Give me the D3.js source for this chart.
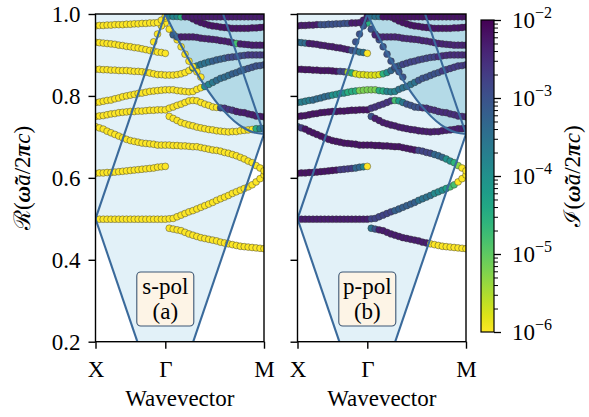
<!DOCTYPE html>
<html><head><meta charset="utf-8">
<script src="https://cdn.jsdelivr.net/npm/d3@7"></script>
<style>
body{margin:0;background:#fff}
svg{display:block}
svg text{font-family:"Liberation Serif","DejaVu Serif",serif !important;fill:#000}
</style>
</head><body>
<svg id="c" width="589" height="417"></svg>
<script>
// ---- data ----
const kPath = [0,0.0278,0.0556,0.0833,0.1111,0.1389,0.1667,0.1944,0.2222,0.25,0.2778,0.3056,0.3333,0.3611,0.3889,0.4167,0.4444,0.4722,0.5,
  0.5283,0.5566,0.5849,0.6131,0.6414,0.6697,0.6980,0.7263,0.7546,0.7828,0.8111,0.8394,0.8677,0.8960,0.9243,0.9525,0.9808,1.0091,1.0374,1.0657,1.0939,1.1222,1.1505,1.1788,1.2071];
const kTicks = [0, 0.5, 1.2071];
const kTickLabels = ["X", "Γ", "M"];
const wTicks = [0.2, 0.4, 0.6, 0.8, 1.0];
const imMajor = [1e-6, 1e-5, 1e-4, 1e-3, 1e-2];
const imMajorExp = ["−6", "−5", "−4", "−3", "−2"];
const panelNames = ["s-pol", "p-pol"];
const panelTags = ["(a)", "(b)"];

// bands: start index on kPath, Re(omega) values, colour runs [from,to,log10 Im] for s-pol and p-pol
const b1Start = 0;
const b1W = [.499,.499,.499,.499,.499,.499,.499,.499,.499,.499,.499,.499,.499,.499,.499,.499,.499,.499,.499,.500,.501,.505,.509,.513,.517,.520,.524,.528,.532,.536,.540,.545,.549,.553,.557,.562,.566,.570,.574,.578,.583,.590,.598,.607];
const b1S = [[0,43,-6.5]];
const b1P = [[0,0,-3.0],[1,18,-2.3],[19,24,-2.8],[25,30,-3.2],[31,34,-3.5],[35,37,-3.9],[38,38,-4.3],[39,40,-4.8],[41,43,-6.5]];

const b2Start = 19;
const b2W = [.477,.475,.473,.471,.467,.463,.460,.457,.454,.452,.450,.448,.446,.443,.441,.439,.437,.435,.433,.432,.431,.430,.429,.428,.427];
const b2S = [[19,43,-6.5]];
const b2P = [[19,19,-3.5],[20,20,-3.0],[21,33,-2.3],[34,43,-6.5]];

const b3Start = 0;
const b3W = [.611,.612,.612,.613,.613,.614,.615,.616,.617,.618,.619,.620,.621,.622,.623,.624,.626,.627,.628];
const b3S = [[0,18,-6.5]];
const b3P = [[0,10,-2.2],[11,14,-2.7],[15,16,-3.3],[17,17,-3.8],[18,18,-6.5]];

const b5Start = 0;
const b5W = [.725,.722,.719,.714,.710,.706,.702,.698,.694,.691,.689,.687,.685,.684,.683,.682,.680,.680,.680,.680,.679,.679,.678,.678,.677,.676,.676,.674,.672,.670,.668,.667,.665,.662,.660,.657,.654,.650,.646,.641,.637,.630,.624,.617];
const b5S = [[0,43,-6.5]];
const b5P = [[0,0,-3.2],[1,1,-2.7],[2,30,-2.2],[31,34,-2.8],[35,37,-3.3],[38,39,-4.0],[40,40,-4.6],[41,41,-5.3],[42,43,-6.5]];

const b6Start = 0;
const b6W = [.750,.751,.752,.754,.756,.757,.759,.760,.761,.762,.762,.763,.763,.764,.765,.765,.766,.766,.766,.770,.773,.777,.780,.784,.788,.789,.788,.784,.780,.777,.773,.772,.771,.770,.767,.765,.762,.760,.759,.756,.754,.751,.750,.749];
const b6S = [[0,31,-6.5],[32,32,-3.0],[33,35,-2.6],[36,43,-2.3]];
const b6P = [[0,18,-2.2],[19,24,-2.6],[25,25,-4.8],[26,26,-4.2],[27,27,-3.6],[28,31,-3.0],[32,43,-2.5]];

const b7Start = 0;
const b7W = [.784,.785,.787,.789,.790,.793,.795,.798,.800,.802,.804,.806,.807,.809,.811,.812,.813,.814,.815,.815,.815,.813,.812,.811,.810,.811,.816,.820,.823,.828,.833,.838,.843,.846,.850,.854,.857,.861,.864,.867,.870,.873,.874,.876];
const b7S = [[0,27,-6.5],[28,28,-4.0],[29,29,-3.8],[30,30,-3.6],[31,34,-3.4],[35,38,-3.2],[39,43,-3.0]];
const b7P = [[0,3,-3.7],[4,8,-3.4],[9,12,-4.0],[13,15,-4.5],[16,20,-5.2],[21,22,-4.5],[23,25,-3.8],[26,30,-3.5],[31,36,-3.0],[37,43,-2.7]];

const b8Start = 19;
const b8W = [.750,.745,.740,.735,.732,.729,.727,.724,.722,.720,.718,.717,.715,.714,.713,.712,.713,.713,.715,.716,.717,.718,.720,.720,.721];
const b8S = [[19,40,-6.5],[41,41,-4.5],[42,43,-3.8]];
const b8P = [[19,19,-3.0],[20,43,-2.3]];

const b9Start = 0;
const b9W = [.865,.865,.864,.864,.863,.863,.862,.862,.862,.861,.860,.860,.859,.858,.856,.854,.852,.852,.851,.851,.851,.852,.854,.857,.862,.868,.873,.877,.880,.883,.885,.888,.890,.892,.894,.895,.896,.898,.899,.900,.900,.900,.900,.900];
const b9S = [[0,24,-6.5],[25,25,-4.0],[26,26,-3.8],[27,29,-3.5],[30,33,-3.2],[34,38,-2.9],[39,43,-2.7]];
const b9P = [[0,10,-2.2],[11,12,-2.8],[13,13,-5.5],[14,14,-4.5],[15,21,-5.8],[22,22,-4.6],[23,23,-4.0],[24,26,-3.3],[27,35,-2.8],[36,43,-2.5]];

const b10Start = 0;
const b10W = [.931,.930,.929,.928,.927,.926,.924,.923,.921,.920,.918,.917,.915,.913,.911,.910,.907,.906,.904];
const b10S = [[0,18,-6.5]];
const b10P = [[0,2,-3.4],[3,13,-2.3],[14,15,-3.0],[16,17,-3.5],[18,18,-6.5]];

const b11Start = 0;
const b11W = [.971,.972,.972,.973,.973,.974,.974,.974,.975,.975,.976,.976,.977,.977,.978,.978,.979,.985,.995];
const b11S = [[0,18,-6.5]];
const b11P = [[0,5,-2.3],[6,13,-3.0],[14,18,-2.3]];

const lStart = 15;
const lW = [.932,.951,.971,.990];
const lS = [[15,18,-6.5]];
const lP = [[15,18,-3.0]];

const cStart = 18;
const cW = [.978,.963,.951,.937,.920,.902,.885,.871,.859,.846];
const cS = [[18,27,-6.5]];
const cP = [[18,18,-4.5],[19,27,-3.0]];

const d1Start = 19;
const d1W = [.995,.994,.994,.993,.993,.993,.993,.993,.993,.993,.993,.993,.993,.993,.993,.993,.993,.993,.993,.993,.993,.993,.993,.993,.993];
const d1S = [[19,21,-3.8],[22,22,-4.5],[23,43,-2.3]];
const d1P = [[19,21,-3.5],[22,43,-2.2]];

const d2Start = 24;
const d2W = [.993,.988,.983,.979,.976,.973,.971,.970,.968,.967,.966,.965,.965,.965,.965,.965,.966,.966,.967,.968];
const d2S = [[24,43,-2.2]];
const d2P = [[24,43,-2.2]];

const d3Start = 20;
const d3W = [.949,.944,.944,.944,.944,.944,.943,.941,.940,.939,.938,.937,.935,.934,.932,.930,.928,.927,.926,.925,.924,.924,.924,.924];
const d3S = [[20,21,-3.2],[22,35,-2.3],[36,36,-4.8],[37,43,-2.3]];
const d3P = [[20,43,-2.4]];

// light lines (k-path, Re omega)
const lightLineA = [[0,0.5],[0.5,0]];
const lightLineB = [[0.5,0],[1.2071,0.7071]];
const lightLineC = [[0,0.5],[0.5,1.0]];
const lightLineD = [[0.9142,1.0],[1.2071,0.7071]];
const diffCurve = [[0.5,1.0],[0.5707,0.9513],[0.6414,0.9055],[0.7121,0.8631],[0.7828,0.8246],[0.8536,0.7906],[0.9243,0.7616],[0.995,0.7382],[1.0657,0.7211],[1.1364,0.7106],[1.2071,0.7071]];
const lightCone = [[0,1.0],[1.2071,1.0],[1.2071,0.7071],[0.5,0],[0,0.5]];

// ---- build table ----
const bands = [
  [b1Start,b1W,b1S,b1P],[b2Start,b2W,b2S,b2P],[b3Start,b3W,b3S,b3P],[b5Start,b5W,b5S,b5P],
  [b6Start,b6W,b6S,b6P],[b8Start,b8W,b8S,b8P],[b7Start,b7W,b7S,b7P],[b9Start,b9W,b9S,b9P],
  [cStart,cW,cS,cP],[b10Start,b10W,b10S,b10P],[lStart,lW,lS,lP],[b11Start,b11W,b11S,b11P],
  [d3Start,d3W,d3S,d3P],[d2Start,d2W,d2S,d2P],[d1Start,d1W,d1S,d1P]
];
function imAt(runs, i){ for(const r of runs){ if(i>=r[0] && i<=r[1]) return Math.pow(10,r[2]); } return 1e-7; }
function pointsFor(pol){
  const pts=[];
  bands.forEach(b=>{
    const [st,w,s,p]=b; const runs = pol===0? s : p;
    w.forEach((v,j)=>{ const i=st+j; pts.push({k:kPath[i], w:v, im:imAt(runs,i)}); });
  });
  return pts;
}

// ---- drawing ----
const svg = d3.select("#c");
const yTop = 14, yBot = 341.7;
const y = d3.scaleLinear().domain([0.2,1.0]).range([yBot,yTop]);
const color = d3.scaleSequentialLog(t => d3.interpolateViridis(1-t)).domain([1e-6,1e-2]).clamp(true);
const panels = [{x0:95.5,x1:264},{x0:297.5,x1:466}];
const FS = 23;
const lineColor = "#3a6a9b";

panels.forEach((pn,pi)=>{
  const x = d3.scaleLinear().domain([0,1.2071]).range([pn.x0,pn.x1]);
  const cid = "clip"+pi;
  svg.append("clipPath").attr("id",cid).append("rect")
    .attr("x",pn.x0).attr("y",yTop).attr("width",pn.x1-pn.x0).attr("height",yBot-yTop);
  const g = svg.append("g").attr("clip-path",`url(#${cid})`);
  const line = d3.line().x(d=>x(d[0])).y(d=>y(d[1]));
  g.append("path").attr("d", line(lightCone)+"Z").attr("fill","#e2f1f8");
  const darkPoly = diffCurve.concat([[1.2071,1.0]]);
  g.append("path").attr("d", line(darkPoly)+"Z").attr("fill","#b4dae7");
  const pts = pointsFor(pi);
  g.selectAll("circle.pt").data(pts).join("circle")
    .attr("cx",d=>x(d.k)).attr("cy",d=>y(d.w)).attr("r",3.4)
    .attr("fill",d=>color(d.im)).attr("stroke","#333").attr("stroke-width",0.45);
  const curveLine = d3.line().x(d=>x(d[0])).y(d=>y(d[1])).curve(d3.curveNatural);
  [lightLineA,lightLineB,lightLineC,lightLineD].forEach(L=>{
    g.append("path").attr("d",line(L)).attr("fill","none").attr("stroke",lineColor).attr("stroke-width",2.1);
  });
  g.append("path").attr("d",curveLine(diffCurve)).attr("fill","none").attr("stroke",lineColor).attr("stroke-width",2.1);

  // label box
  const bx = x(0.5);
  svg.append("rect").attr("x",bx-28.5).attr("y",272).attr("width",57).attr("height",54).attr("rx",4)
    .attr("fill","#fdf4e6").attr("stroke","#3d5774").attr("stroke-width",1.1);
  svg.append("text").attr("x",bx).attr("y",294).attr("text-anchor","middle").attr("font-size",FS).text(panelNames[pi]);
  svg.append("text").attr("x",bx).attr("y",319).attr("text-anchor","middle").attr("font-size",FS).text(panelTags[pi]);

  // frame
  svg.append("rect").attr("x",pn.x0).attr("y",yTop).attr("width",pn.x1-pn.x0).attr("height",yBot-yTop)
    .attr("fill","none").attr("stroke","#000").attr("stroke-width",1.4);
  // axes
  const ay = svg.append("g").attr("transform",`translate(${pn.x0},0)`)
    .call(d3.axisLeft(y).tickValues(wTicks).tickSize(7).tickFormat(pi===0? d3.format(".1f") : ()=>""));
  ay.select(".domain").remove();
  ay.selectAll("line").attr("stroke-width",1.4);
  ay.selectAll("text").attr("font-size",FS).attr("x",-15);
  const ax = svg.append("g").attr("transform",`translate(0,${yBot})`)
    .call(d3.axisBottom(x).tickValues(kTicks).tickSize(7).tickFormat((d,i)=>kTickLabels[i]));
  ax.select(".domain").remove();
  ax.selectAll("line").attr("stroke-width",1.4);
  ax.selectAll("text").attr("font-size",FS).attr("y",19);
  svg.append("text").attr("x",(pn.x0+pn.x1)/2).attr("y",406).attr("text-anchor","middle").attr("font-size",FS).text("Wavevector");
});

// y label
function mathLabel(sel, first){
  sel.append("tspan").text(first);
  sel.append("tspan").text("(");
  sel.append("tspan").attr("font-weight","bold").attr("font-style","italic").text("ω\u0303");
  sel.append("tspan").attr("font-style","italic").text("a");
  sel.append("tspan").text("/2");
  sel.append("tspan").attr("font-weight","bold").attr("font-style","italic").text("π");
  sel.append("tspan").attr("font-style","italic").text("c");
  sel.append("tspan").text(")");
}
const yl = svg.append("text").attr("transform","translate(30,178) rotate(-90)").attr("text-anchor","middle").attr("font-size",FS);
mathLabel(yl,"ℛ");

// colorbar
const cbX = 481, cbW = 13, cbTop = 20, cbBot = 332;
const defs = svg.append("defs");
const grad = defs.append("linearGradient").attr("id","vir").attr("x1",0).attr("y1",0).attr("x2",0).attr("y2",1);
d3.range(0,1.0001,0.05).forEach(o=>grad.append("stop").attr("offset",o).attr("stop-color",d3.interpolateViridis(o)));
svg.append("rect").attr("x",cbX).attr("y",cbTop).attr("width",cbW).attr("height",cbBot-cbTop).attr("fill","url(#vir)");
svg.append("rect").attr("x",cbX).attr("y",cbTop).attr("width",cbW).attr("height",cbBot-cbTop).attr("fill","none").attr("stroke","#000").attr("stroke-width",1.2);
const cy = d3.scaleLog().domain([1e-6,1e-2]).range([cbBot,cbTop]);
const minor = [];
imMajor.slice(0,4).forEach(d=>{ for(let m=2;m<=9;m++) minor.push(d*m); });
const cmi = svg.append("g").attr("transform",`translate(${cbX+cbW},0)`).call(d3.axisRight(cy).tickValues(minor).tickSize(4).tickFormat(()=>""));
cmi.select(".domain").remove(); cmi.selectAll("line").attr("stroke-width",1);
const cma = svg.append("g").attr("transform",`translate(${cbX+cbW},0)`).call(d3.axisRight(cy).tickValues(imMajor).tickSize(7).tickFormat(()=>""));
cma.select(".domain").remove(); cma.selectAll("line").attr("stroke-width",1.3);
imMajor.forEach((d,i)=>{
  const t = svg.append("text").attr("x",512).attr("y",cy(d)+8).attr("font-size",FS);
  t.append("tspan").text("10");
  t.append("tspan").attr("font-size",16).attr("dy",-10).text(imMajorExp[i]);
});
const cl = svg.append("text").attr("transform","translate(580,176) rotate(-90)").attr("text-anchor","middle").attr("font-size",FS);
mathLabel(cl,"ℐ");
</script>
</body></html>
